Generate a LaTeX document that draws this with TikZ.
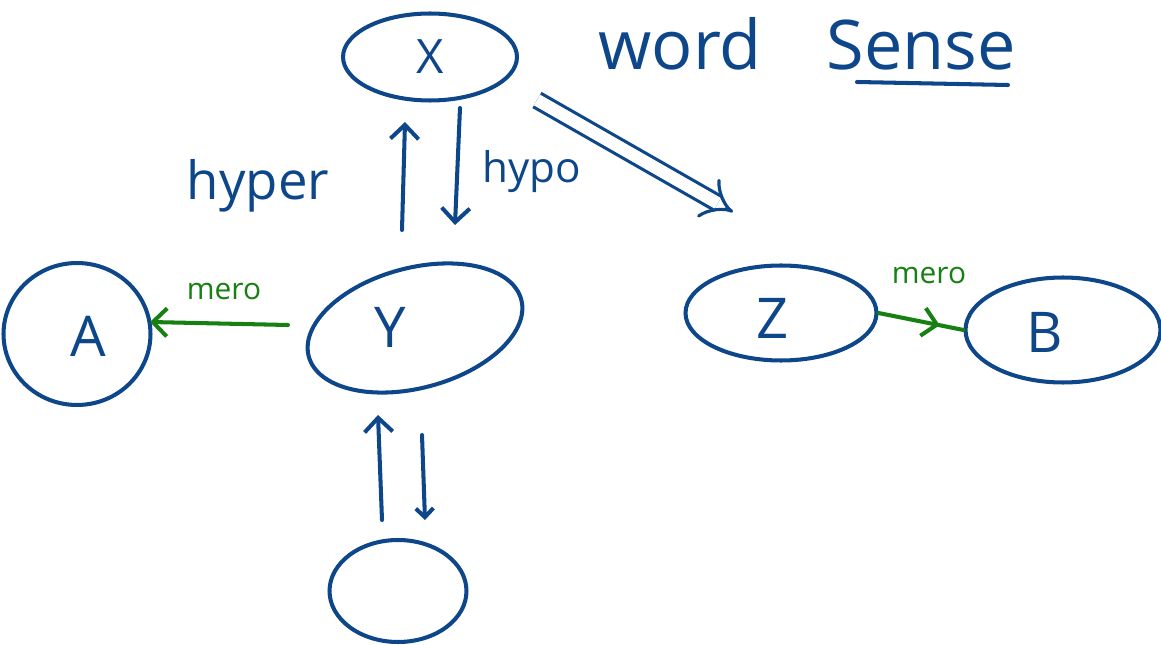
\documentclass[tikz,border=0pt]{standalone}
\usepackage{fontspec}
\setmainfont{Open Sans}
\usetikzlibrary{shapes.geometric,arrows.meta,decorations.markings}
\definecolor{ink}{RGB}{14,70,138}
\definecolor{inkg}{RGB}{22,128,18}
\begin{document}
\begin{tikzpicture}[x=0.02cm,y=-0.02cm,
  bub/.style={draw=ink, line width=2.3pt, ellipse, inner sep=0pt},
  lbl/.style={text=ink, font=\fontsize{32}{36}\selectfont},
  word/.style={text=ink, font=\fontsize{#1}{#1}\selectfont},
  arr/.style={draw=ink, line width=2.3pt, line cap=round, -{Straight Barb[length=8pt,width=16pt]}},
  garr/.style={draw=inkg, line width=2.3pt, line cap=round, -{Straight Barb[length=8pt,width=16pt]}}
]
\useasboundingbox (0,0) rectangle (1161,645);
% bubbles
\node[bub, minimum width=3.48cm, minimum height=1.74cm] (X) at (430,57) {};
\node[bub, minimum width=4.4cm, minimum height=2.4cm, rotate=15] (Y) at (415,328) {};
\node[bub, minimum width=2.94cm, minimum height=2.84cm] (A) at (77,334) {};
\node[bub, minimum width=3.82cm, minimum height=1.9cm] (Z) at (781,313) {};
\node[bub, minimum width=3.9cm, minimum height=2.1cm] (B) at (1063,330) {};
\node[bub, minimum width=2.74cm, minimum height=2.04cm] (W) at (398,591) {};
% letters
\node[lbl, font=\fontsize{27}{30}\selectfont] (tX) at (X) {X};
\node[lbl] (tY) at (390,327) {Y};
\node[lbl] (tA) at (88,336) {A};
\node[lbl] (tZ) at (773,318) {Z};
\node[lbl] (tB) at (1045,332) {B};
% titles and labels
\node[word=39, anchor=west, inner sep=0pt] (title) at (598,44) {word\hspace{0.95em}Sense};
\draw[ink, line width=2.3pt, line cap=round] (857,82) -- (1008,85);
\node[word=30] (hyper) at (258,186) {hyper};
\node[word=24] (hypo) at (532,172) {hypo};
\node[word=17, text=inkg] (mero1) at (224,292) {mero};
\node[word=17, text=inkg] (mero2) at (929,276) {mero};
% hyper / hypo arrows
\draw[arr] ([shift={(-13,-98)}]Y.center) -- ([shift={(-25,65)}]X.center);
\draw[arr] ([shift={(30,51)}]X.center) -- ([shift={(40,-103)}]Y.center);
% X to Z double arrow
\draw[ink, line width=1.8pt, double=white, double distance=7pt, -{Implies}]
  ([shift={(107,43)}]X.center) -- ([shift={(-48,-101)}]Z.center);
% bottom arrows
\draw[arr] ([shift={(-16,-71)}]W.center) -- ([shift={(-37,87)}]Y.center);
\draw[arr, -{Straight Barb[length=5pt,width=10pt]}] ([shift={(7,107)}]Y.center) -- ([shift={(27,-71)}]W.center);
% mero arrows
\draw[garr] ([shift={(-127,-3)}]Y.center) -- ([shift={(73,-12)}]A.center);
\draw[draw=inkg, line width=2.3pt, line cap=round,
  decoration={markings, mark=at position 0.72 with {\arrow{Straight Barb[length=8pt,width=16pt]}}},
  postaction={decorate}] (Z.east) -- (B.west);
\end{tikzpicture}
\end{document}
